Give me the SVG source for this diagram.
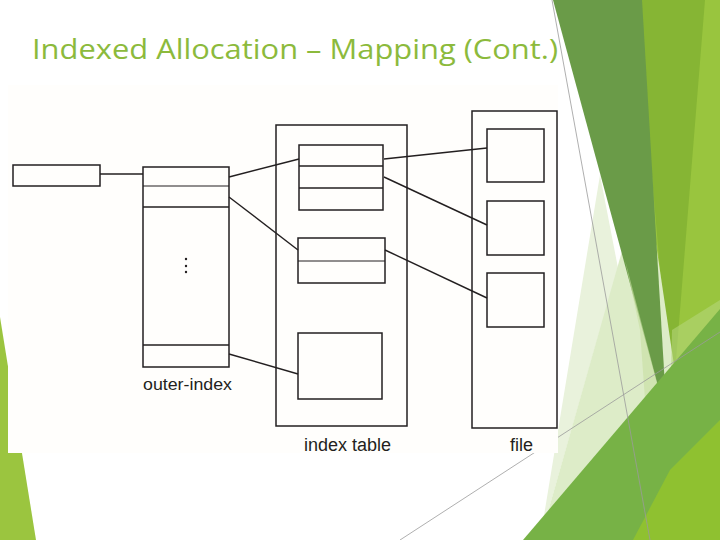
<svg xmlns="http://www.w3.org/2000/svg" width="720" height="540" viewBox="0 0 720 540">
<style>
.b{fill:none;stroke:#231f20;stroke-width:1.5}
.t{stroke:#231f20;stroke-width:1}
.c{fill:none;stroke:#231f20;stroke-width:1.4}
.lbl{font-family:"Liberation Sans",Arial,sans-serif;fill:#231f20}
.gl{stroke:#9a9a9a;stroke-width:0.8;fill:none}
</style>
<rect width="720" height="540" fill="#ffffff"/>
<g id="decor">
<polygon points="0,317 36,540 0,540" fill="#9BC53F"/>
<polygon points="637,0 720,0 720,540 640,540 665,420" fill="#99C53E"/>
<polygon points="637,0 705,0 672,410" fill="#86B534"/>
<polygon points="600,175 630,330 600,330 540,540" fill="#E9F2DC"/>
<polygon points="645,170 700,540 540,540" fill="#DDECC8"/>
<polygon points="553,0 642,0 667,420" fill="#6A9B48"/>
<polygon points="625,260 667,420 650,470 640,330" fill="#C8E0A2" opacity="0.6"/>
<polygon points="672,330 720,300 720,420 668,500" fill="#B4D67A" opacity="0.6"/>
<polygon points="523,540 720,309 720,540" fill="#77B246"/>
<polygon points="633,540 670,470 720,420 720,540" fill="#8FC130"/>
<line class="gl" x1="552" y1="0" x2="650" y2="540"/>
<line class="gl" x1="400" y1="540" x2="720" y2="332"/>
</g>
<rect x="8" y="85" width="550" height="368" fill="#FFFEFC"/>
<text x="32" y="59" font-family="'Open Sans','DejaVu Sans',sans-serif" font-size="28" fill="#8CBA3C" textLength="526" lengthAdjust="spacingAndGlyphs">Indexed Allocation – Mapping (Cont.)</text>
<g id="connectors">
<line class="c" x1="100" y1="174" x2="143" y2="174"/>
<line class="c" x1="229" y1="177" x2="299" y2="159"/>
<line class="c" x1="229" y1="197" x2="298" y2="250"/>
<line class="c" x1="229" y1="354" x2="298" y2="374"/>
<line class="c" x1="384" y1="159" x2="487" y2="148"/>
<line class="c" x1="384" y1="177" x2="487" y2="225"/>
<line class="c" x1="385" y1="250" x2="487" y2="298"/>
</g>
<g id="root-block">
<rect class="b" x="13" y="165" width="87" height="21"/>
</g>
<g id="outer-index">
<rect class="b" x="143" y="167" width="86" height="200"/>
<line class="t" x1="143" y1="186" x2="229" y2="186"/>
<line class="b" x1="143" y1="207" x2="229" y2="207"/>
<line class="b" x1="143" y1="345" x2="229" y2="345"/>
<circle cx="186" cy="259" r="1.2" fill="#231f20"/>
<circle cx="186" cy="266" r="1.2" fill="#231f20"/>
<circle cx="186" cy="272" r="1.2" fill="#231f20"/>
<text class="lbl" x="143" y="390" font-size="17" textLength="89" lengthAdjust="spacingAndGlyphs">outer-index</text>
</g>
<g id="index-table">
<rect class="b" x="276" y="125" width="131" height="301"/>
<rect class="b" x="299" y="145" width="84" height="65"/>
<line class="b" x1="299" y1="166" x2="383" y2="166"/>
<line class="b" x1="299" y1="188" x2="383" y2="188"/>
<rect class="b" x="298" y="238" width="87" height="45"/>
<line class="t" x1="298" y1="261" x2="385" y2="261"/>
<rect class="b" x="298" y="333" width="84" height="66"/>
<text class="lbl" x="304" y="451" font-size="18">index table</text>
</g>
<g id="file">
<rect class="b" x="472" y="111" width="85" height="317"/>
<rect class="b" x="487" y="129" width="57" height="53"/>
<rect class="b" x="487" y="201" width="57" height="54"/>
<rect class="b" x="487" y="273" width="57" height="54"/>
<text class="lbl" x="510" y="451" font-size="18">file</text>
</g>
</svg>
